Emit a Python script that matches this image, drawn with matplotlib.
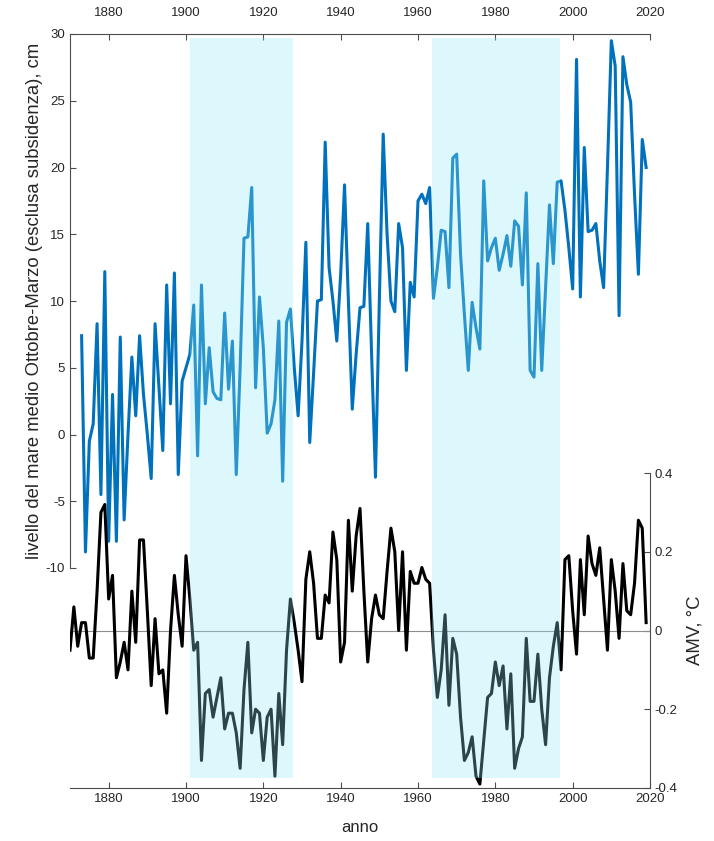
import matplotlib
matplotlib.use("Agg")
import matplotlib.pyplot as plt
import numpy as np

plt.rcParams['font.family'] = ['Liberation Sans', 'DejaVu Sans']
plt.rcParams['axes.unicode_minus'] = False

# livello del mare medio Ottobre-Marzo, cm (1873-2019)
seaStart = 1873
seaLevel = [7.4, -8.8, -0.5, 0.8, 8.3, -4.5, 12.2, -8.0, 3.0, -8.0,
            7.3, -6.4, 0.0, 5.8, 1.4, 7.4, 3.0, 0.0, -3.3, 8.3,
            3.5, -1.2, 11.2, 2.3, 12.1, -3.0, 4.0, 5.0, 6.0, 9.7,
            -1.6, 11.2, 2.3, 6.5, 3.2, 2.7, 2.6, 9.1, 3.4, 7.0,
            -3.0, 5.0, 14.7, 14.8, 18.5, 3.5, 10.3, 6.5, 0.1, 0.8,
            2.6, 8.5, -3.5, 8.4, 9.4, 5.0, 1.4, 7.0, 14.4, -0.6,
            4.6, 10.0, 10.1, 21.9, 12.5, 10.0, 7.0, 12.0, 18.7, 10.0,
            1.9, 6.0, 9.5, 9.6, 15.8, 6.0, -3.2, 10.0, 22.5, 15.0,
            10.0, 9.2, 15.8, 14.0, 4.8, 11.4, 10.3, 17.5, 18.0, 17.3,
            18.5, 10.2, 12.5, 15.3, 15.2, 11.0, 20.7, 21.0, 13.5, 9.0,
            4.8, 9.9, 8.0, 6.4, 19.0, 13.0, 14.0, 14.7, 12.3, 13.5,
            14.9, 12.6, 16.0, 15.6, 11.2, 18.1, 4.8, 4.3, 12.8, 4.8,
            11.0, 17.2, 12.8, 18.9, 19.0, 16.8, 14.0, 10.9, 28.1, 10.3,
            21.5, 15.2, 15.3, 15.8, 13.0, 11.0, 20.0, 29.5, 27.6, 8.9,
            28.3, 26.2, 24.9, 18.0, 12.0, 22.1, 20.0]

# AMV, °C (1870-2019)
amvStart = 1870
amv = [-0.05, 0.06, -0.04, 0.02, 0.02, -0.07, -0.07, 0.10, 0.30, 0.32,
       0.08, 0.14, -0.12, -0.08, -0.03, -0.10, 0.10, -0.03, 0.23, 0.23,
       0.05, -0.14, 0.03, -0.11, -0.10, -0.21, 0.00, 0.14, 0.04, -0.04,
       0.19, 0.08, -0.05, -0.03, -0.33, -0.16, -0.15, -0.22, -0.17, -0.12,
       -0.25, -0.21, -0.21, -0.26, -0.35, -0.15, -0.03, -0.26, -0.20, -0.21,
       -0.33, -0.22, -0.20, -0.37, -0.16, -0.29, -0.05, 0.08, 0.02, -0.05,
       -0.13, 0.13, 0.20, 0.12, -0.02, -0.02, 0.09, 0.07, 0.25, 0.18,
       -0.08, -0.03, 0.28, 0.10, 0.24, 0.31, 0.10, -0.08, 0.03, 0.09,
       0.04, 0.03, 0.15, 0.26, 0.20, 0.00, 0.20, -0.05, 0.15, 0.12,
       0.12, 0.16, 0.13, 0.12, -0.05, -0.17, -0.10, 0.04, -0.19, -0.02,
       -0.06, -0.22, -0.33, -0.31, -0.27, -0.37, -0.39, -0.28, -0.17, -0.16,
       -0.08, -0.14, -0.09, -0.25, -0.11, -0.35, -0.30, -0.27, -0.02, -0.18,
       -0.18, -0.06, -0.20, -0.29, -0.12, -0.04, 0.02, -0.10, 0.18, 0.19,
       0.05, -0.06, 0.18, 0.04, 0.24, 0.17, 0.14, 0.21, 0.08, -0.05,
       0.18, 0.10, -0.02, 0.17, 0.05, 0.04, 0.12, 0.28, 0.26, 0.02]

# periodi AMV negativa (fasce azzurre)
coldPhases = [(1901.0, 1927.7), (1963.6, 1996.7)]

seaYears = np.arange(seaStart, seaStart + len(seaLevel))
amvYears = np.arange(amvStart, amvStart + len(amv))
yearTicks = list(range(1880, 2021, 20))

W, H = 714, 841
def box(x0, y0, x1, y1):
    return [x0 / W, 1 - y1 / H, (x1 - x0) / W, (y1 - y0) / H]

axisColor = '#4d4d4d'
textColor = '#262626'

fig = plt.figure(figsize=(W / 100, H / 100), dpi=100)

# --- livello del mare (asse sopra / sinistra)
axSea = fig.add_axes(box(70, 34, 650, 568))
axSea.plot(seaYears, seaLevel, color='#0072BD', lw=2.2)
axSea.set_xlim(1870, 2020)
axSea.set_ylim(-10, 30)
axSea.set_yticks(range(-10, 31, 5))
axSea.set_xticks(yearTicks)
axSea.xaxis.tick_top()
for side in ['right', 'bottom']:
    axSea.spines[side].set_visible(False)
for side in ['left', 'top']:
    axSea.spines[side].set_color(axisColor)
axSea.tick_params(direction='in', length=4, colors=axisColor, labelcolor=textColor, labelsize=9.5)
axSea.tick_params(axis='x', pad=11)
axSea.set_ylabel("livello del mare medio Ottobre-Marzo (esclusa subsidenza), cm",
                 fontsize=13.3, color=textColor, labelpad=2)
axSea.patch.set_visible(False)

# --- AMV (asse sotto / destra)
axAmv = fig.add_axes(box(70, 473, 650, 788))
axAmv.axhline(0, color='#8c8c8c', lw=0.8)
axAmv.plot(amvYears, amv, color='black', lw=2.2)
axAmv.set_xlim(1870, 2020)
axAmv.set_ylim(-0.4, 0.4)
axAmv.set_yticks([-0.4, -0.2, 0, 0.2, 0.4])
axAmv.set_yticklabels(['-0.4', '-0.2', '0', '0.2', '0.4'])
axAmv.set_xticks(yearTicks)
axAmv.yaxis.tick_right()
axAmv.yaxis.set_label_position('right')
for side in ['left', 'top']:
    axAmv.spines[side].set_visible(False)
for side in ['right', 'bottom']:
    axAmv.spines[side].set_color(axisColor)
axAmv.tick_params(direction='in', length=4, colors=axisColor, labelcolor=textColor, labelsize=9.5)
axAmv.set_xlabel("anno", fontsize=12, color=textColor, labelpad=11)
axAmv.set_ylabel("AMV, °C", fontsize=13.3, color=textColor, labelpad=6)
axAmv.patch.set_visible(False)

# --- fasce azzurre sopra le curve
axShade = fig.add_axes(box(70, 38, 650, 778))
axShade.set_xlim(1870, 2020)
axShade.axis('off')
for start, end in coldPhases:
    axShade.axvspan(start, end, color='#90e8f8', alpha=0.3, lw=0)

fig.savefig("out.png", dpi=100)
